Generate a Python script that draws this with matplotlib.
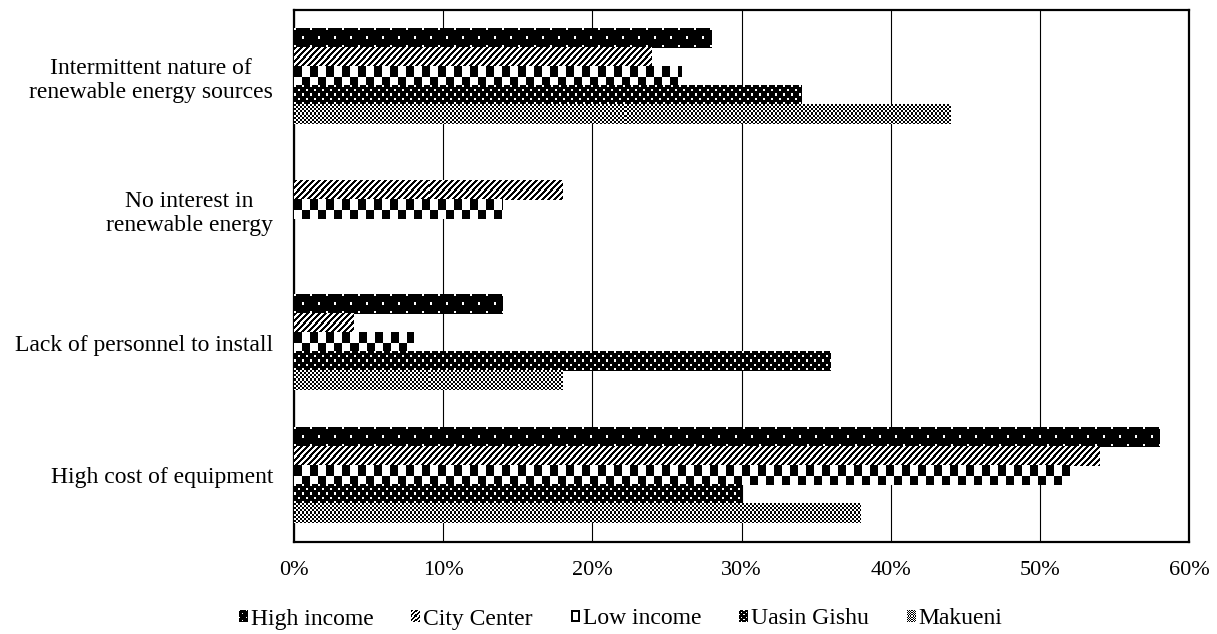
import numpy as np
import matplotlib
matplotlib.use("Agg")
import matplotlib.pyplot as plt
from matplotlib.colors import Normalize
from matplotlib.image import BboxImage
from matplotlib.legend_handler import HandlerBase
from matplotlib.patches import Rectangle
from matplotlib.ticker import PercentFormatter
from matplotlib.transforms import Bbox, TransformedBbox

# ---- data (share of respondents, %) ----
categories = [
    "High cost of equipment",
    "Lack of personnel to install",
    "No interest in\nrenewable energy",
    "Intermittent nature of\nrenewable energy sources",
]
series_names = ["High income", "City Center", "Low income", "Uasin Gishu", "Makueni"]
high_income = [58, 14, 0, 28]
city_center = [54, 4, 18, 24]
low_income = [52, 8, 14, 26]
uasin_gishu = [30, 36, 0, 34]
makueni = [38, 18, 0, 44]
x_ticks = [0, 10, 20, 30, 40, 50, 60]

series_values = [high_income, city_center, low_income, uasin_gishu, makueni]

plt.rcParams["font.family"] = ["Liberation Serif", "DejaVu Serif"]
plt.rcParams["font.size"] = 17

DPI = 100


# ---- monochrome fill patterns (1 = black pixel) ----
def checker(cw, ch):
    t = np.zeros((2 * ch, 2 * cw))
    t[:ch, :cw] = 1
    t[ch:, cw:] = 1
    return t


def dots(period_x, period_y, size):
    t = np.ones((period_y, period_x))
    t[:size, :size] = 0
    hy, hx = period_y // 2, period_x // 2
    t[hy:hy + size, hx:hx + size] = 0
    return t


def stripes(period, thick):
    r, c = np.indices((period, period))
    return ((c + r) % period < thick).astype(float)


patterns = [
    dots(16, 16, 2),      # High income: sparse white dots on black
    stripes(6, 3),        # City Center: upward diagonal
    checker(8, 10),       # Low income: large checkerboard
    dots(8, 8, 2),        # Uasin Gishu: dense white dots on black
    checker(2, 2),        # Makueni: fine checkerboard
]

# small legend keys: reduced versions of the bar fills
legend_patterns = [
    dots(6, 6, 1),
    stripes(4, 2),
    "box",
    dots(4, 4, 1),
    checker(1, 1),
]


def tile_to(tile, h, w):
    h, w = max(int(h), 1), max(int(w), 1)
    if isinstance(tile, str):
        # hollow key with a 2-px black border
        arr = np.zeros((h, w))
        arr[:2, :] = arr[-2:, :] = 1
        arr[:, :2] = arr[:, -2:] = 1
        return arr
    ty, tx = tile.shape
    return np.tile(tile, (h // ty + 1, w // tx + 1))[:h, :w]


class PatternHandler(HandlerBase):
    def __init__(self, tile):
        super().__init__()
        self.tile = tile

    def create_artists(self, legend, orig_handle, xdescent, ydescent,
                       width, height, fontsize, trans):
        bb = TransformedBbox(Bbox.from_bounds(-xdescent, -ydescent, width, height), trans)
        img = BboxImage(bb, cmap="gray_r", norm=Normalize(0, 1),
                        interpolation="nearest")
        img.set_data(tile_to(self.tile, round(height * DPI / 72), round(width * DPI / 72)))
        return [img]


fig = plt.figure(figsize=(12.17, 6.34), dpi=DPI)
ax = fig.add_axes([294 / 1217, 1 - 542 / 634, (1189 - 294) / 1217, (542 - 10) / 634])

n = len(series_names)
bar_h = 0.144
y_base = np.arange(len(categories))

ax.set_xlim(0, 60)
ax.set_ylim(-0.5, len(categories) - 0.5)

for j, (name, vals) in enumerate(zip(series_names, series_values)):
    ys = y_base + (2 - j) * bar_h
    bars = ax.barh(ys, vals, height=bar_h, color="none", linewidth=0,
                   label=name, zorder=3)
    for rect in bars:
        w = rect.get_width()
        if w <= 0:
            continue
        x0, y0 = rect.get_x(), rect.get_y()
        x1, y1 = x0 + w, y0 + rect.get_height()
        p0 = ax.transData.transform((x0, y0))
        p1 = ax.transData.transform((x1, y1))
        arr = tile_to(patterns[j], round(p1[1] - p0[1]), round(p1[0] - p0[0]))
        ax.imshow(arr, cmap="gray_r", vmin=0, vmax=1, extent=(x0, x1, y0, y1),
                  origin="upper", aspect="auto", interpolation="nearest", zorder=3)

ax.set_xlim(0, 60)
ax.set_ylim(-0.5, len(categories) - 0.5)

ax.set_xticks(x_ticks)
ax.xaxis.set_major_formatter(PercentFormatter(decimals=0))
ax.set_yticks(y_base)
ax.set_yticklabels(categories, multialignment="center")
ax.tick_params(axis="both", length=0)
ax.tick_params(axis="x", pad=14, labelsize=16)
ax.tick_params(axis="y", pad=15)

ax.grid(axis="x", color="black", linewidth=0.8, zorder=0)
ax.set_axisbelow(True)
for sp in ax.spines.values():
    sp.set_linewidth(1.6)
    sp.set_color("black")

handles = [Rectangle((0, 0), 1, 1) for _ in series_names]
handler_map = {h: PatternHandler(t) for h, t in zip(handles, legend_patterns)}
fig.legend(handles, series_names, handler_map=handler_map, loc="center",
           bbox_to_anchor=(0.51, 1 - 619 / 634), ncol=n, frameon=False,
           handlelength=0.36, handleheight=0.36, handletextpad=0.15,
           columnspacing=1.6, borderaxespad=0)

fig.savefig("out.png", dpi=DPI)
